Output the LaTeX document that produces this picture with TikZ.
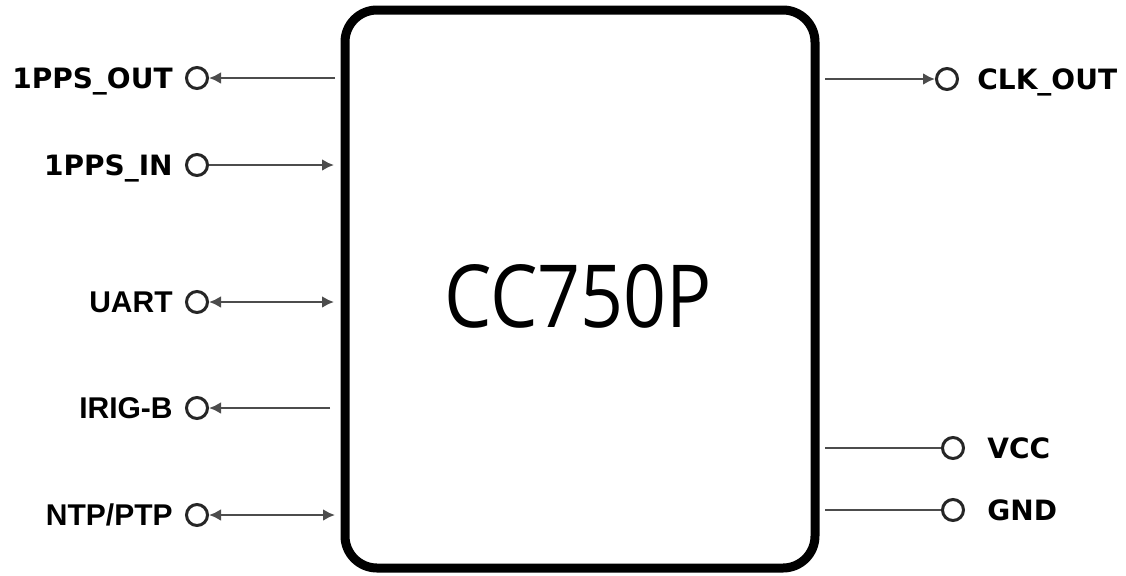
\documentclass[tikz,border=0pt]{standalone}
\usepackage{fontspec}
\newfontfamily\portfont{DejaVu Sans}
\newfontfamily\sigfont{Liberation Sans}
\newfontfamily\chipfont{Open Sans}
\usetikzlibrary{arrows.meta,positioning}
\tikzset{
  chip/.style={draw,line width=4.5pt,rounded corners=16pt,minimum width=235pt,minimum height=279pt,inner sep=0pt},
  chipname/.style={font=\chipfont\fontsize{43.5pt}{44pt}\selectfont,xscale=0.865,transform shape,inner sep=0pt},
  port/.style={circle,draw=black!85,line width=1.5pt,minimum size=10.5pt,inner sep=0pt,fill=white},
  wire/.style={draw=black!70,line width=1.4pt},
  lbla/.style={font=\portfont\bfseries\fontsize{14pt}{15pt}\selectfont,inner sep=0pt,text height=10.2pt,text depth=0pt},
  lblb/.style={font=\sigfont\bfseries\fontsize{15pt}{16pt}\selectfont,inner sep=0pt,text height=10.7pt,text depth=0pt}
}
\begin{document}
\begin{tikzpicture}[x=0.5pt,y=-0.5pt,>={Latex[length=6pt,width=6pt]}]
  \useasboundingbox (0,0) rectangle (1126,575);
  \node[chip] (chip) at (580,289) {};
  \node[chipname] (name) at (578,296) {CC750P};
  \draw
    (197,78) node[port] (ppsout){}
    (197,165) node[port] (ppsin){}
    (197,302) node[port] (uart){}
    (197,408) node[port] (irig){}
    (197,515) node[port] (ntp){}
    (947,79) node[port] (clk){}
    (953,448) node[port] (vcc){}
    (953,510) node[port] (gnd){};
  % free ends next to the chip
  \coordinate (ppsout-c) at (335,78);
  \coordinate (ppsin-c) at (334,165);
  \coordinate (uart-c) at (334,302);
  \coordinate (irig-c) at (330,408);
  \coordinate (ntp-c) at (335,515);
  \coordinate (clk-c) at (825,79);
  \coordinate (vcc-c) at (825,448);
  \coordinate (gnd-c) at (825,510);
  \begin{scope}[wire]
    \draw[->] (ppsout-c) to (ppsout);
    \draw[->] (ppsin) to (ppsin-c);
    \draw[<->] (uart) to (uart-c);
    \draw[->] (irig-c) to (irig);
    \draw[<->] (ntp) to (ntp-c);
    \draw[->] (clk-c) to (clk);
    \draw (vcc-c) to (vcc);
    \draw (gnd-c) to (gnd);
  \end{scope}
  \node[lbla,left=6pt of ppsout] (ppsoutlbl) {1PPS\_OUT};
  \node[lbla,left=6pt of ppsin] (ppsinlbl) {1PPS\_IN};
  \node[lblb,left=6pt of uart] (uartlbl) {UART};
  \node[lblb,left=6pt of irig] (iriglbl) {IRIG-B};
  \node[lblb,left=6pt of ntp] (ntplbl) {NTP/PTP};
  \node[lbla,right=9pt of clk] (clklbl) {CLK\_OUT};
  \node[lbla,right=11pt of vcc] (vcclbl) {VCC};
  \node[lbla,right=11pt of gnd] (gndlbl) {GND};
\end{tikzpicture}
\end{document}
